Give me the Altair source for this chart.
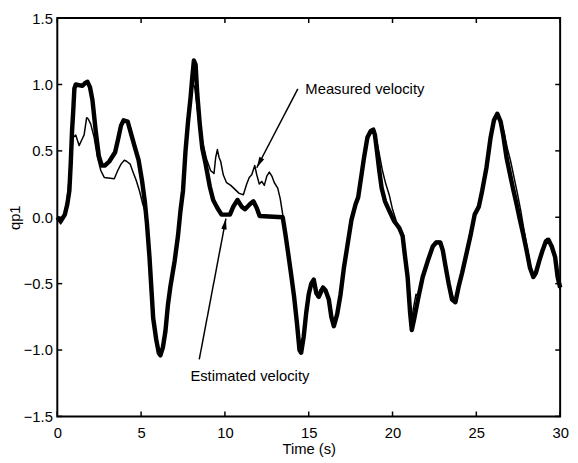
import altair as alt
import pandas as pd

# Estimated velocity (thick line)
est_t = [0.0, 0.2, 0.45, 0.6, 0.72, 0.8, 0.88, 0.95, 1.02, 1.1, 1.5, 1.65, 1.8, 1.95, 2.1, 2.3, 2.48, 2.65,
         2.85, 3.1, 3.45, 3.65, 3.8, 3.95, 4.2, 4.4, 4.6, 4.85, 5.05, 5.22, 5.35, 5.5, 5.62, 5.72, 5.9, 6.05,
         6.15, 6.3, 6.45, 6.6, 6.75, 7.0, 7.2, 7.35, 7.5, 7.65, 7.8, 7.95, 8.05, 8.15, 8.25, 8.35, 8.5, 8.65,
         8.85, 9.1, 9.3, 9.55, 9.8, 10.3, 10.5, 10.75, 11.0, 11.2, 11.5, 11.7, 11.9, 12.07, 13.45, 13.6, 13.75,
         13.95, 14.13, 14.3, 14.45, 14.55, 14.7, 14.85, 15.0, 15.15, 15.3, 15.45, 15.6, 15.85, 16.0, 16.2,
         16.35, 16.5, 16.7, 16.9, 17.1, 17.3, 17.55, 17.8, 17.95, 18.15, 18.3, 18.5, 18.7, 18.85, 18.95, 19.05,
         19.2, 19.35, 19.55, 19.8, 20.1, 20.4, 20.6, 20.75, 20.9, 21.05, 21.15, 21.3, 21.55, 21.8, 22.1, 22.4,
         22.6, 22.85, 23.0, 23.15, 23.35, 23.55, 23.75, 23.95, 24.15, 24.4, 24.65, 24.9, 25.15, 25.35, 25.6,
         25.85, 26.05, 26.25, 26.45, 26.6, 26.8, 27.0, 27.2, 27.4, 27.6, 27.8, 28.0, 28.2, 28.4, 28.55, 28.75,
         28.95, 29.15, 29.3, 29.5, 29.7, 29.85, 30.0]
est_v = [0.0, -0.03, 0.02, 0.1, 0.2, 0.4, 0.65, 0.8, 0.97, 1.0, 0.99, 1.01, 1.02, 0.98, 0.88, 0.64, 0.46, 0.39,
         0.39, 0.42, 0.49, 0.6, 0.69, 0.73, 0.72, 0.63, 0.54, 0.43, 0.28, 0.12, -0.05, -0.3, -0.55, -0.76, -0.92, -1.02,
         -1.04, -0.98, -0.86, -0.66, -0.52, -0.33, -0.14, 0.05, 0.2, 0.5, 0.72, 0.9, 1.05, 1.18, 1.15, 0.93, 0.7, 0.52,
         0.4, 0.23, 0.13, 0.07, 0.02, 0.02, 0.08, 0.13, 0.08, 0.06, 0.1, 0.12, 0.07, 0.01, 0.0, -0.12, -0.25,
         -0.43, -0.6, -0.8, -1.0, -1.02, -0.9, -0.72, -0.58, -0.5, -0.47, -0.57, -0.6, -0.53, -0.55, -0.62,
         -0.75, -0.82, -0.73, -0.58, -0.38, -0.22, -0.02, 0.1, 0.15, 0.32, 0.45, 0.6, 0.65, 0.66, 0.62, 0.52,
         0.36, 0.22, 0.12, 0.05, -0.03, -0.08, -0.14, -0.3, -0.45, -0.72, -0.85, -0.76, -0.6, -0.45, -0.33, -0.22,
         -0.19, -0.19, -0.25, -0.36, -0.5, -0.62, -0.64, -0.52, -0.42, -0.28, -0.14, 0.02, 0.08, 0.2, 0.37,
         0.6, 0.73, 0.78, 0.72, 0.62, 0.45, 0.33, 0.21, 0.1, -0.02, -0.13, -0.25, -0.38, -0.45, -0.42, -0.33,
         -0.25, -0.18, -0.17, -0.22, -0.3, -0.45, -0.53]

# Measured velocity (thin line)
meas_t = [0.0, 0.2, 0.45, 0.6, 0.72, 0.85, 0.95, 1.1, 1.2, 1.3, 1.45, 1.6, 1.75, 1.85, 2.0, 2.2, 2.4, 2.6, 2.8,
          3.4, 3.6, 3.8, 4.0, 4.15, 4.35, 4.55, 4.7, 4.9, 5.1, 5.22, 5.35, 5.5, 5.62, 5.75, 5.95, 6.1, 6.2, 6.35,
          6.5, 6.65, 6.8, 7.0, 7.2, 7.38, 7.5, 7.65, 7.8, 7.95, 8.1, 8.2, 8.35, 8.5, 8.7, 8.9, 9.15, 9.35, 9.45,
          9.55, 9.65, 9.75, 9.9, 10.1, 10.35, 10.6, 10.85, 11.1, 11.3, 11.45, 11.6, 11.78, 11.9, 12.05, 12.2,
          12.35, 12.5, 12.65, 12.8, 12.95, 13.15, 13.3, 13.45, 13.6, 13.75, 13.95, 14.13, 14.3, 14.42, 14.5,
          14.6, 14.75, 14.9, 15.05, 15.2, 15.35, 15.5, 15.65, 15.85, 16.05, 16.25, 16.45, 16.65, 16.85, 17.05,
          17.3, 17.55, 17.8, 18.0, 18.2, 18.4, 18.6, 18.8, 18.95, 19.1, 19.25, 19.4, 19.6, 19.8, 20.0, 20.3,
          20.55, 20.75, 20.9, 21.05, 21.12, 21.25, 21.4, 21.55, 21.75, 22.05, 22.35, 22.6, 22.85, 23.05, 23.2,
          23.4, 23.6, 23.75, 23.95, 24.2, 24.45, 24.7, 24.95, 25.2, 25.4, 25.65, 25.9, 26.1, 26.25, 26.45,
          26.65, 26.85, 27.05, 27.25, 27.45, 27.65, 27.85, 28.05, 28.25, 28.45, 28.6, 28.8, 29.0, 29.2, 29.35,
          29.55, 29.75, 29.9, 30.0]
meas_v = [0.0, -0.05, 0.03, 0.15, 0.3, 0.5, 0.6, 0.62, 0.58, 0.54, 0.58, 0.62, 0.75, 0.74, 0.7, 0.6, 0.45, 0.35, 0.3,
          0.29, 0.35, 0.4, 0.43, 0.42, 0.4, 0.33, 0.28, 0.2, 0.1, 0.05, -0.08, -0.32, -0.58, -0.8, -0.95, -1.02, -1.0, -0.93,
          -0.8, -0.62, -0.48, -0.32, -0.12, 0.08, 0.22, 0.5, 0.72, 0.88, 1.0, 0.98, 0.82, 0.67, 0.55, 0.44, 0.35, 0.33, 0.45,
          0.51, 0.45, 0.42, 0.32, 0.26, 0.24, 0.21, 0.18, 0.17, 0.25, 0.3, 0.32, 0.39, 0.32, 0.25, 0.27,
          0.24, 0.31, 0.34, 0.31, 0.26, 0.22, 0.14, 0.02, -0.1, -0.24, -0.42, -0.6, -0.78, -0.95, -0.98,
          -0.95, -0.8, -0.65, -0.55, -0.48, -0.52, -0.6, -0.55, -0.52, -0.57, -0.68, -0.8, -0.75, -0.6, -0.42,
          -0.2, 0.0, 0.12, 0.18, 0.36, 0.52, 0.62, 0.65, 0.64, 0.55, 0.45, 0.35, 0.25, 0.17, 0.06, -0.06,
          -0.12, -0.28, -0.48, -0.7, -0.8, -0.68, -0.58, -0.6, -0.47, -0.34, -0.23, -0.18, -0.18, -0.27, -0.38,
          -0.52, -0.6, -0.62, -0.5, -0.38, -0.24, -0.1, 0.04, 0.12, 0.24, 0.42, 0.64, 0.75, 0.77, 0.73,
          0.64, 0.52, 0.42, 0.3, 0.18, 0.05, -0.1, -0.24, -0.38, -0.45, -0.41, -0.31, -0.23, -0.16, -0.18,
          -0.24, -0.35, -0.5, -0.55]

x_ticks = [0, 5, 10, 15, 20, 25, 30]
y_ticks = [-1.5, -1, -0.5, 0, 0.5, 1, 1.5]

labels = ["Measured velocity", "Estimated velocity"]
label_t = [14.8, 7.94]
label_v = [0.963, -1.197]
arrow_t_start = [14.35, 8.47]
arrow_v_start = [0.967, -1.07]
arrow_t_tip = [11.9, 10.06]
arrow_v_tip = [0.373, -0.01]
arrow_angle = [207.5, 10.5]

W, H = 510, 404
FONT = "Liberation Sans"

xs = alt.Scale(domain=[0, 30], nice=False, zero=False)
ys = alt.Scale(domain=[-1.5, 1.5], nice=False, zero=False)

x_axis = alt.Axis(values=x_ticks, title="Time (s)", ticks=False, tickSize=0, domain=False, grid=False,
                  labelPadding=9, titlePadding=2, labelFlush=False, labelOverlap=False,
                  labelFont=FONT, labelFontSize=15, labelColor="black",
                  titleFont=FONT, titleFontSize=15, titleColor="black", titleFontWeight="normal")
y_axis = alt.Axis(values=y_ticks, title="qp1", ticks=False, tickSize=0, domain=False, grid=False,
                  labelPadding=5, titlePadding=1, titleAngle=270, labelFlush=False, labelOverlap=False,
                  labelFont=FONT, labelFontSize=15, labelColor="black",
                  titleFont=FONT, titleFontSize=15, titleColor="black", titleFontWeight="normal")

X = alt.X("t:Q", scale=xs, axis=x_axis)
Y = alt.Y("v:Q", scale=ys, axis=y_axis)

est = pd.DataFrame({"t": est_t, "v": est_v})
meas = pd.DataFrame({"t": meas_t, "v": meas_v})
xt = pd.DataFrame({"t": x_ticks})
yt = pd.DataFrame({"v": y_ticks})
ann = pd.DataFrame({"label": labels, "t": label_t, "v": label_v})
arr = pd.DataFrame({"t": arrow_t_start, "v": arrow_v_start, "t2": arrow_t_tip, "v2": arrow_v_tip})
heads = pd.DataFrame({"t": arrow_t_tip, "v": arrow_v_tip, "ang": arrow_angle})

thick = alt.Chart(est).mark_line(color="black", strokeWidth=4.5, strokeJoin="round").encode(
    x=X, y=Y, order="t:Q")
thin = alt.Chart(meas).mark_line(color="black", strokeWidth=1.5, strokeJoin="round").encode(
    x=X, y=Y, order="t:Q")

tick_b = alt.Chart(xt).mark_rule(color="black", strokeWidth=1.5).encode(
    x=X, y=alt.value(H), y2=alt.value(H - 5))
tick_t = alt.Chart(xt).mark_rule(color="black", strokeWidth=1.5).encode(
    x=X, y=alt.value(0), y2=alt.value(5))
tick_l = alt.Chart(yt).mark_rule(color="black", strokeWidth=1.5).encode(
    y=Y, x=alt.value(0), x2=alt.value(5))
tick_r = alt.Chart(yt).mark_rule(color="black", strokeWidth=1.5).encode(
    y=Y, x=alt.value(W - 5), x2=alt.value(W))

arrows = alt.Chart(arr).mark_rule(color="black", strokeWidth=1.5).encode(
    x=X, y=Y, x2="t2:Q", y2="v2:Q")
arrowheads = alt.Chart(heads).mark_point(
    shape="M0,0 L-0.55,2.2 L0.55,2.2 Z", filled=True, size=100, color="black", opacity=1, strokeWidth=0
).encode(x=X, y=Y, angle=alt.Angle("ang:Q", scale=None))
texts = alt.Chart(ann).mark_text(align="left", baseline="middle", font=FONT, fontSize=15, color="black").encode(
    x=X, y=Y, text="label:N")

chart = alt.layer(thick, thin, tick_b, tick_t, tick_l, tick_r, arrows, arrowheads, texts).properties(
    width=W, height=H,
    background="white",
    autosize=alt.AutoSizeParams(type="none"),
    padding={"left": 50, "top": 7, "right": 10, "bottom": 44},
).configure_view(
    stroke="black", strokeWidth=2
)

chart.save("out.html", embed_options={"renderer": "svg", "actions": False})
